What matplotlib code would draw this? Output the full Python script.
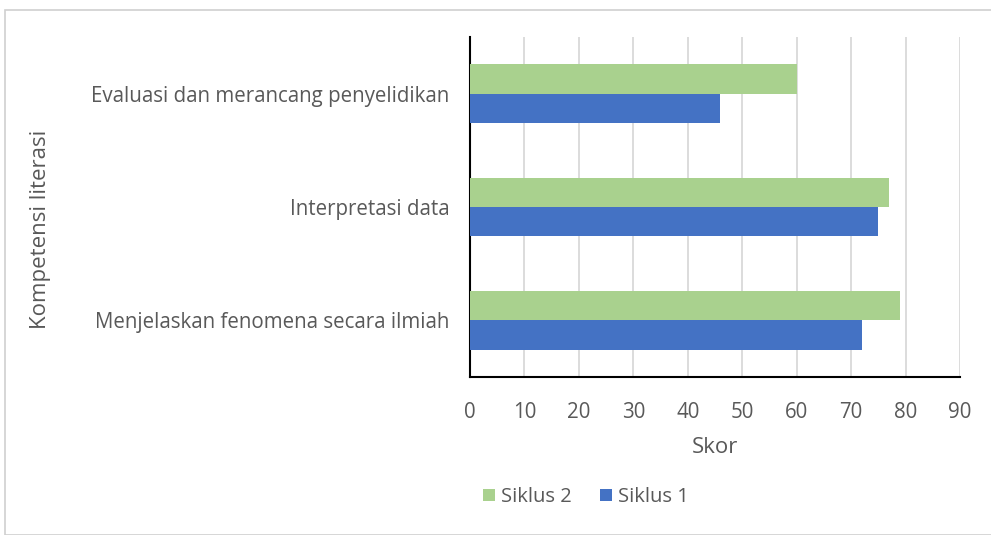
import numpy as np
import matplotlib.pyplot as plt
from matplotlib.patches import Rectangle

# data
categories = ["Menjelaskan fenomena secara ilmiah", "Interpretasi data",
              "Evaluasi dan merancang penyelidikan"]
siklus1 = [72, 75, 46]
siklus2 = [79, 77, 60]
xticks = list(range(0, 100, 10))

plt.rcParams['font.family'] = ['Open Sans', 'DejaVu Sans']
txt = '#595959'

fig = plt.figure(figsize=(9.91, 5.35), dpi=100)
ax = fig.add_axes([470/991, 1 - 377/535, 490/991, 340/535])

y = np.arange(len(categories))
h = 0.26
ax.barh(y - h/2, siklus1, height=h, color='#4472c4', label='Siklus 1', zorder=3)
ax.barh(y + h/2, siklus2, height=h, color='#a9d18e', label='Siklus 2', zorder=3)

ax.set_xlim(0, 90)
ax.set_ylim(-0.5, 2.5)
ax.set_xticks(xticks)
ax.set_yticks(y)
ax.set_yticklabels(categories)
ax.tick_params(axis='both', length=0, labelsize=14.8, colors=txt)
ax.tick_params(axis='x', pad=18)
ax.tick_params(axis='y', pad=15)
ax.grid(axis='x', color='#d9d9d9', linewidth=1.3, zorder=0)

for s in ['top', 'right']:
    ax.spines[s].set_visible(False)
ax.spines['left'].set_color('black')
ax.spines['bottom'].set_color('black')
ax.spines['left'].set_linewidth(1.5)
ax.spines['bottom'].set_linewidth(1.5)

ax.set_xlabel('Skor', fontsize=16, color=txt, labelpad=10)
fig.text(41/991, 1 - 229/535, 'Kompetensi literasi', rotation=90,
         ha='center', va='center', fontsize=16, color=txt)

handles, labels = ax.get_legend_handles_labels()
fig.legend(handles[::-1], labels[::-1], loc='center', ncol=2,
           bbox_to_anchor=(586/991, 1 - 497/535), frameon=False,
           fontsize=14.5, labelcolor=txt, handlelength=0.6, handleheight=0.6,
           columnspacing=1.4, handletextpad=0.3)

fig.patches.append(Rectangle((5/991, 0), 1.5, 1 - 10/535,
                             transform=fig.transFigure, fill=False,
                             edgecolor='#d0d0d0', linewidth=1.2))

fig.savefig('out.png', dpi=100)
